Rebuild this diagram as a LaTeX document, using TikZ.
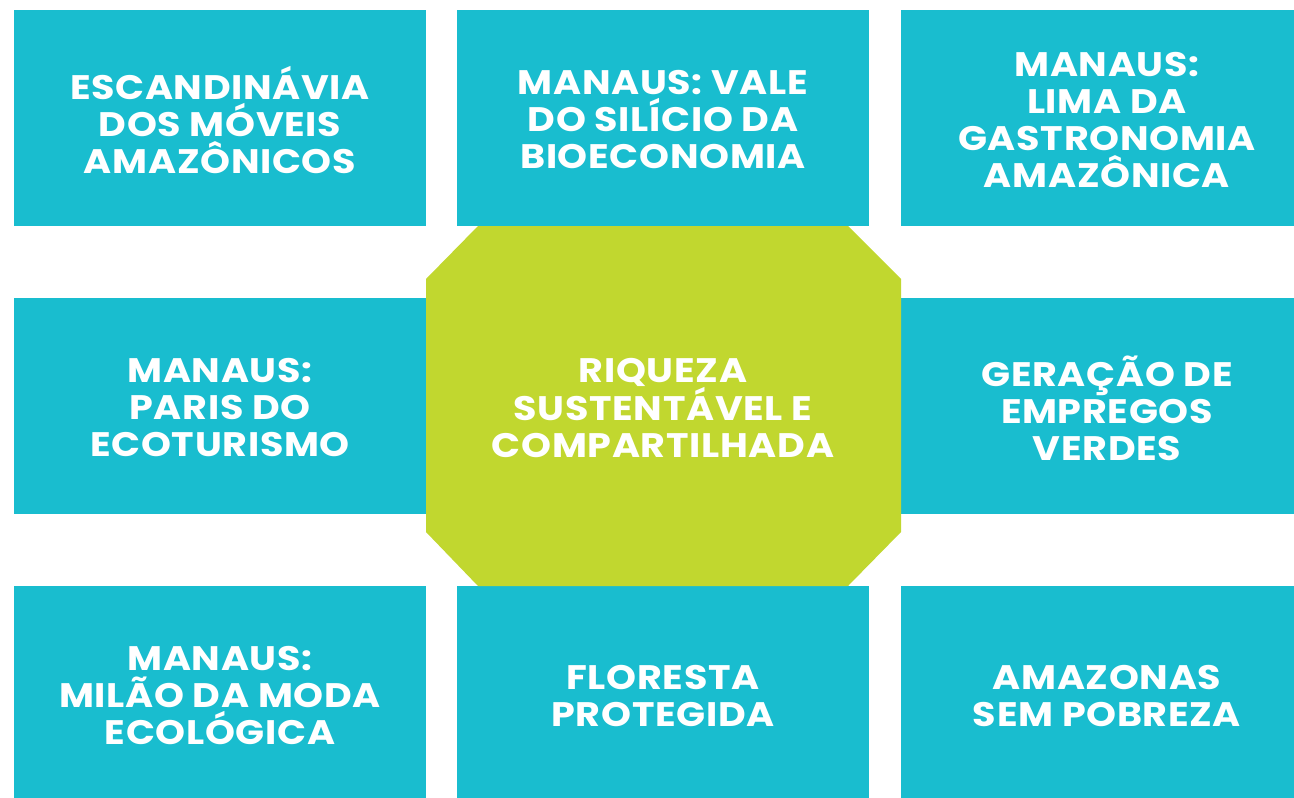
\documentclass[tikz,border=0pt]{standalone}
\usepackage{fontspec}
\setmainfont{Poppins}[FakeStretch=1.12,LetterSpace=2]
\definecolor{boxcyan}{HTML}{19BDCF}
\definecolor{octgreen}{HTML}{C1D72F}
\begin{document}
\begin{tikzpicture}[x=1pt,y=-1pt,
  tile/.style={fill=boxcyan,draw=none},
  lbl/.style={text=white,align=center,font=\fontsize{34}{37}\selectfont\bfseries,inner sep=0pt}]
\useasboundingbox (0,0) rectangle (1294,798);
% boxes
\fill[tile] (14,10) rectangle (426,226);
\fill[tile] (457,10) rectangle (869,226);
\fill[tile] (901,10) rectangle (1294,226);
\fill[tile] (14,298) rectangle (426,514);
\fill[tile] (901,298) rectangle (1294,514);
\fill[tile] (14,586) rectangle (426,798);
\fill[tile] (457,586) rectangle (869,798);
\fill[tile] (901,586) rectangle (1294,798);
% octagon
\fill[octgreen] (478,226) -- (848,226) -- (901,279) -- (901,532) -- (848,586) -- (478,586) -- (426,532) -- (426,279) -- cycle;
% labels
\node[lbl] (t1) at (220,120) {ESCANDINÁVIA\\DOS MÓVEIS\\AMAZÔNICOS};
\node[lbl] (t2) at (663,120) {MANAUS: VALE\\DO SILÍCIO DA\\BIOECONOMIA};
\node[lbl] (t3) at (1107,120) {MANAUS:\\LIMA DA\\GASTRONOMIA\\AMAZÔNICA};
\node[lbl] (t4) at (220,408) {MANAUS:\\PARIS DO\\ECOTURISMO};
\node[lbl] (t5) at (663,408) {RIQUEZA\\SUSTENTÁVEL E\\COMPARTILHADA};
\node[lbl] (t6) at (1107,408) {GERAÇÃO DE\\EMPREGOS\\VERDES};
\node[lbl] (t7) at (220,696) {MANAUS:\\MILÃO DA MODA\\ECOLÓGICA};
\node[lbl] (t8) at (663,696) {FLORESTA\\PROTEGIDA};
\node[lbl] (t9) at (1107,696) {AMAZONAS\\SEM POBREZA};
\end{tikzpicture}
\end{document}
